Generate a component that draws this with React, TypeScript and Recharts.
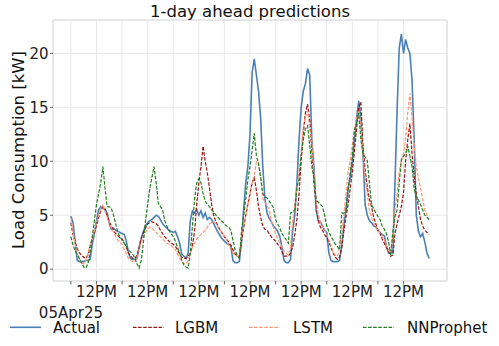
import React from 'react';
import { LineChart, Line, XAxis, YAxis, CartesianGrid, ReferenceArea } from 'recharts';

const FONT = '"DejaVu Sans", Verdana, sans-serif';

// hourly index starting 05 Apr 2025 00:00
const hours: number[] = Array.from({ length: 169 }, (_, i) => i);

const actual = [
  4.9, 4.3, 2.5, 0.8, 0.7, 0.7, 0.7, 0.8, 0.8, 0.9, 2.3, 3.3, 4.5, 5.5, 5.8, 5.7, 5.5, 5.2, 4.2, 3.7, 3.8, 3.6, 3.5, 3.4,
  3.3, 3.2, 2.6, 1.5, 1.0, 0.9, 0.9, 1.0, 2.0, 2.8, 3.5, 4.0, 4.3, 4.5, 4.6, 4.8, 5.0, 4.9, 4.6, 4.2, 4.0, 3.8, 3.6, 3.5,
  3.4, 3.5, 3.0, 2.4, 1.4, 1.2, 1.0, 1.5, 4.5, 5.4, 5.2, 5.5, 5.0, 5.4, 4.8, 5.2, 4.6, 4.8, 4.6, 4.2, 3.8, 3.4, 3.1, 2.8,
  2.6, 2.4, 2.3, 2.2, 0.8, 0.6, 0.6, 0.7, 2.5, 5.5, 8.0, 9.5, 12.5, 18.2, 19.5, 18.0, 16.5, 14.0, 9.5, 6.5, 5.2, 4.7, 4.4, 4.0,
  3.8, 3.5, 3.0, 2.0, 0.8, 0.6, 0.6, 0.9, 3.5, 5.0, 8.0, 12.0, 15.0, 16.5, 17.2, 18.6, 18.0, 12.0, 9.5, 5.5, 4.5, 4.4, 4.0, 3.6,
  3.4, 1.5, 0.8, 0.7, 0.7, 0.7, 0.8, 2.1, 4.0, 5.5, 7.5, 8.5, 10.0, 12.0, 14.0, 15.6, 14.0, 10.7, 6.0, 5.0, 4.5, 4.3, 4.0, 3.9,
  3.6, 3.4, 3.2, 3.1, 2.1, 1.5, 1.5, 1.5, 8.0, 14.8, 20.5, 21.8, 20.0, 21.3, 20.5, 20.0, 17.5, 12.0, 5.0, 3.5, 3.0, 3.3, 2.5, 1.5, 1.0,
];

const lgbm = [
  4.3, 3.2, 2.5, 1.9, 1.5, 1.3, 1.1, 1.0, 1.3, 2.2, 2.8, 3.4, 4.0, 4.8, 5.4, 5.8, 5.6, 5.0, 4.4, 4.0, 3.6, 3.3, 3.1, 2.9,
  2.8, 2.5, 2.0, 1.5, 1.2, 1.0, 1.0, 1.3, 2.0, 2.9, 3.4, 3.8, 4.2, 4.3, 4.4, 4.3, 4.2, 4.0, 3.6, 3.3, 3.0, 2.8, 2.6, 2.4,
  2.3, 2.1, 1.8, 1.4, 1.1, 1.0, 1.0, 1.2, 1.5, 2.2, 3.5, 6.0, 8.0, 9.5, 11.4, 10.0, 8.9, 7.5, 6.0, 4.9, 4.4, 4.0, 3.6, 3.3,
  3.0, 2.8, 2.5, 2.2, 1.8, 1.4, 1.2, 1.2, 2.5, 3.8, 5.0, 6.0, 7.0, 8.0, 8.5, 7.3, 5.8, 4.8, 4.0, 3.7, 3.6, 3.3, 3.0, 2.8,
  2.6, 2.3, 2.1, 1.6, 1.2, 1.2, 1.2, 1.5, 2.0, 3.2, 4.6, 7.0, 10.0, 12.6, 14.5, 15.3, 13.8, 11.0, 8.0, 6.0, 4.5, 3.9, 3.6, 3.2,
  2.9, 2.5, 2.0, 1.5, 1.1, 0.9, 1.1, 2.0, 3.5, 4.8, 6.0, 7.5, 9.0, 11.0, 13.0, 15.0, 15.5, 11.4, 9.2, 7.6, 6.5, 5.8, 4.8, 4.2,
  3.6, 3.3, 2.8, 2.4, 2.0, 1.6, 1.2, 1.3, 3.3, 4.2, 5.0, 5.8, 7.1, 10.1, 12.0, 13.5, 10.7, 8.6, 7.0, 5.8, 4.6, 4.0, 3.6, 3.4, 3.2,
];

const lstm = [
  4.7, 3.5, 2.3, 1.5, 0.9, 0.6, 0.5, 0.8, 1.5, 2.2, 2.8, 3.5, 4.3, 5.0, 5.6, 6.0, 5.4, 4.8, 4.3, 3.8, 3.4, 3.0, 2.7, 2.5,
  2.3, 1.8, 1.4, 1.0, 0.8, 0.7, 0.7, 1.0, 1.8, 2.5, 3.0, 3.4, 3.7, 3.9, 3.8, 3.6, 3.4, 3.2, 3.0, 2.8, 2.6, 2.4, 2.3, 2.2,
  2.0, 1.8, 1.4, 1.0, 0.7, 0.5, 0.5, 0.8, 1.5, 2.0, 2.4, 2.8, 3.0, 3.2, 3.4, 3.6, 3.9, 4.2, 4.3, 4.4, 4.2, 3.9, 3.6, 3.3,
  3.0, 2.7, 2.2, 1.8, 1.5, 1.3, 1.2, 1.2, 3.0, 4.0, 5.0, 6.0, 7.0, 8.0, 8.6, 10.0, 9.8, 8.5, 6.5, 6.2, 5.9, 5.5, 4.5, 3.9,
  3.3, 2.8, 2.4, 2.1, 1.6, 1.5, 1.3, 2.0, 4.5, 6.0, 7.5, 8.9, 11.0, 13.2, 14.1, 14.7, 13.0, 12.0, 9.0, 6.5, 5.0, 4.4, 4.0, 3.7,
  3.3, 2.7, 2.2, 1.6, 1.3, 1.2, 2.0, 3.3, 5.0, 7.0, 9.0, 10.1, 11.5, 13.0, 14.0, 14.7, 13.5, 10.5, 8.5, 7.0, 5.5, 4.8, 4.3, 3.9,
  3.6, 3.3, 3.0, 2.7, 2.2, 1.8, 1.3, 3.0, 5.5, 7.0, 9.0, 10.2, 10.7, 12.0, 14.5, 16.3, 14.0, 11.5, 9.5, 8.5, 7.5, 6.5, 5.5, 5.0, 4.6,
];

const nnprophet = [
  3.0, 2.2, 1.7, 1.3, 1.0, 0.6, 0.2, 0.1, 0.5, 1.5, 3.0, 4.5, 6.0, 7.0, 8.0, 9.5, 7.5, 5.8, 5.8, 5.6, 5.0, 4.2, 3.4, 3.0,
  2.7, 2.4, 2.1, 1.8, 1.6, 1.4, 1.0, 0.5, 0.1, 0.8, 2.5, 4.5, 6.0, 7.5, 8.5, 9.5, 8.0, 6.1, 5.8, 5.5, 4.5, 4.0, 3.6, 3.3,
  3.0, 2.6, 2.0, 1.5, 0.8, 0.4, 0.2, 0.1, 1.5, 4.0, 6.5, 8.0, 8.4, 8.0, 7.0, 6.3, 6.0, 5.8, 5.5, 5.3, 5.0, 4.8, 4.6, 4.4,
  4.2, 4.0, 3.9, 3.6, 2.7, 1.8, 1.3, 1.0, 3.5, 4.9, 6.5, 8.3, 9.5, 11.0, 12.6, 10.5, 9.8, 8.5, 7.0, 6.7, 6.6, 6.3, 6.0, 5.7,
  4.6, 4.2, 3.8, 3.3, 3.0, 2.7, 2.4, 5.2, 5.3, 5.5, 7.6, 8.3, 10.5, 12.0, 13.0, 13.3, 11.5, 9.5, 8.5, 6.4, 6.2, 6.0, 5.8, 5.0,
  4.0, 3.5, 3.0, 2.7, 2.3, 2.1, 1.8, 5.2, 5.2, 5.4, 7.3, 9.0, 10.4, 12.9, 13.5, 14.5, 12.0, 10.7, 10.4, 10.1, 8.0, 6.0, 5.6, 5.2,
  4.9, 4.6, 4.0, 3.7, 3.3, 2.5, 1.3, 3.5, 4.9, 5.5, 8.0, 10.1, 10.5, 10.7, 11.4, 10.5, 9.5, 7.5, 6.7, 6.4, 6.0, 5.5, 5.0, 4.8, 4.6,
];

const xTicks = [0, 12, 24, 36, 48, 60, 72, 84, 96, 108, 120, 132, 144, 156];
const noonLabel = '12PM';
const startLabel = '05Apr25';
const yTicks = [0, 5, 10, 15, 20];

const seriesInfo = [
  { key: 'actual', name: 'Actual', color: '#4a80b5', width: 1.6, dash: undefined as string | undefined },
  { key: 'lgbm', name: 'LGBM', color: '#9b1212', width: 1.2, dash: '3.5 1.6' },
  { key: 'lstm', name: 'LSTM', color: '#ff9673', width: 1.2, dash: '3.5 1.6' },
  { key: 'nnprophet', name: 'NNProphet', color: '#1d7f1d', width: 1.2, dash: '3.5 1.6' },
];

const data = hours.map((h, i) => ({
  h,
  actual: actual[i],
  lgbm: lgbm[i],
  lstm: lstm[i],
  nnprophet: nnprophet[i],
}));

const XTick = (props: any) => {
  const { x, y, payload } = props;
  const v = payload.value;
  if (v % 24 === 12) {
    return (
      <text x={x} y={y} dy={10.6} textAnchor="middle" fontSize={15} fill="#222" fontFamily={FONT}>
        {noonLabel}
      </text>
    );
  }
  if (v === 0) {
    return (
      <text x={x} y={y} dy={31.5} textAnchor="middle" fontSize={15} fill="#222" fontFamily={FONT}>
        {startLabel}
      </text>
    );
  }
  return <g />;
};

const legendPos = [
  { lx: 10, tx: 53 },
  { lx: 133, tx: 175 },
  { lx: 249, tx: 293 },
  { lx: 363, tx: 407 },
];

export default function App() {
  return (
    <div style={{ position: 'absolute', left: 0, top: 0, width: 499, height: 346, background: '#fff' }}>
      <LineChart
        width={499}
        height={346}
        data={data}
        margin={{ top: 20, right: 52, bottom: 0, left: 0 }}
      >
        <CartesianGrid stroke="#e8e8e8" strokeWidth={1} />
        <ReferenceArea x1={-8.4} x2={176.4} y1={-1.1} y2={23.1} fill="none" stroke="#dcdcdc" strokeWidth={1} ifOverflow="extendDomain" />
        <XAxis
          dataKey="h"
          type="number"
          domain={[-8.4, 176.4]}
          ticks={xTicks}
          interval={0}
          height={65}
          axisLine={false}
          tickLine={{ stroke: '#444', strokeWidth: 0.8 }}
          tickSize={3.5}
          tickMargin={2}
          tick={(p: any) => <XTick {...p} />}
          allowDataOverflow
        />
        <YAxis
          type="number"
          domain={[-1.1, 23.1]}
          ticks={yTicks}
          interval={0}
          width={53}
          axisLine={false}
          tickLine={{ stroke: '#444', strokeWidth: 0.8 }}
          tickSize={3}
          tickMargin={1.5}
          tick={{ fontSize: 15, fill: '#222', fontFamily: FONT }}
          allowDataOverflow
        />
        {seriesInfo.map((s) => (
          <Line
            key={s.key}
            dataKey={s.key}
            name={s.name}
            type="linear"
            stroke={s.color}
            strokeWidth={s.width}
            strokeDasharray={s.dash}
            dot={false}
            activeDot={false}
            isAnimationActive={false}
          />
        ))}
      </LineChart>
      <svg
        width={499}
        height={346}
        style={{ position: 'absolute', left: 0, top: 0, pointerEvents: 'none' }}
        fontFamily={FONT}
      >
        <text x={250} y={17} textAnchor="middle" fontSize={16.5} fill="#111">
          1-day ahead predictions
        </text>
        <text transform="translate(24,150) rotate(-90)" textAnchor="middle" fontSize={16.5} fill="#111">
          Load Consumption [kW]
        </text>
        {seriesInfo.map((s, i) => (
          <g key={s.key}>
            <line
              x1={legendPos[i].lx}
              x2={legendPos[i].lx + 31}
              y1={327.3}
              y2={327.3}
              stroke={s.color}
              strokeWidth={s.width}
              strokeDasharray={s.dash}
            />
            <text x={legendPos[i].tx} y={333} fontSize={15} fill="#111">
              {s.name}
            </text>
          </g>
        ))}
      </svg>
    </div>
  );
}
